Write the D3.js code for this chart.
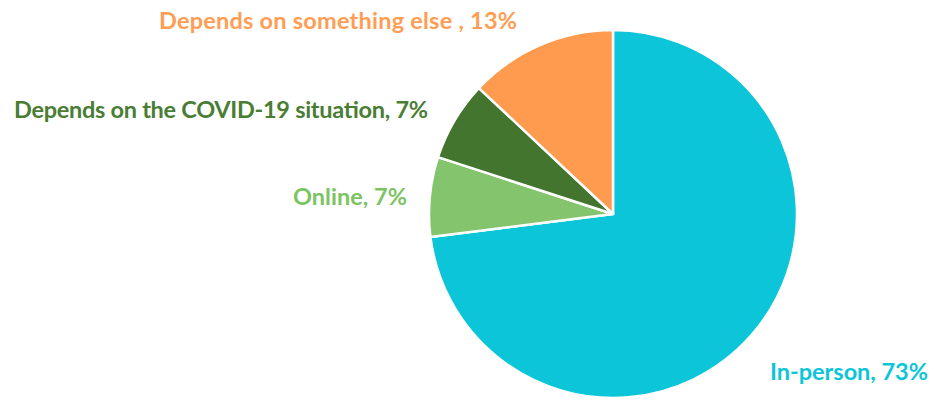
<!DOCTYPE html>
<html>
<head>
<meta charset="utf-8">
<script src="https://cdn.jsdelivr.net/npm/d3@7"></script>
<style>
  html, body { margin: 0; padding: 0; background: #ffffff; }
  svg { display: block; }
  .label { font-family: Lato, sans-serif; font-weight: 700; font-size: 23.5px; }
</style>
</head>
<body>
<svg id="chart" width="934" height="402"></svg>
<script>
// Survey answer shares, in drawing order (clockwise from 12 o'clock)
const categories = ["In-person", "Online", "Depends on the COVID-19 situation", "Depends on something else "];
const shares = [73, 7, 7, 13];
const sliceColors = ["#0cc5d8", "#84c46d", "#43752f", "#ff9b4f"];
const labelColors = ["#0cc5d8", "#7cc463", "#4a7d34", "#ff9d55"];

const svg = d3.select("#chart");
const cx = 613, cy = 214, radius = 184;

const data = categories.map((c, i) => ({ category: c, value: shares[i], i }));

const pie = d3.pie().value(d => d.value).sort(null);
const arc = d3.arc().innerRadius(0).outerRadius(radius);
const arcs = pie(data);

const g = svg.append("g").attr("transform", `translate(${cx},${cy})`);

g.selectAll("path")
  .data(arcs)
  .join("path")
  .attr("d", arc)
  .attr("fill", d => sliceColors[d.data.i])
  .attr("stroke", "#ffffff")
  .attr("stroke-width", 2.5)
  .attr("stroke-linejoin", "round");

// Label anchor points (absolute) and fitted widths, per slice
const labelPlacement = [
  { x: 770, y: 380, anchor: "start", width: 158 },
  { x: 407, y: 205, anchor: "end", width: 114 },
  { x: 428, y: 118, anchor: "end", width: 414 },
  { x: 517, y: 29, anchor: "end", width: 358 }
];

svg.selectAll("text.label")
  .data(arcs)
  .join("text")
  .attr("class", "label")
  .attr("x", d => labelPlacement[d.data.i].x)
  .attr("y", d => labelPlacement[d.data.i].y)
  .attr("text-anchor", d => labelPlacement[d.data.i].anchor)
  .attr("textLength", d => labelPlacement[d.data.i].width)
  .attr("lengthAdjust", "spacing")
  .attr("fill", d => labelColors[d.data.i])
  .text(d => `${d.data.category}, ${d.data.value}%`);
</script>
</body>
</html>
